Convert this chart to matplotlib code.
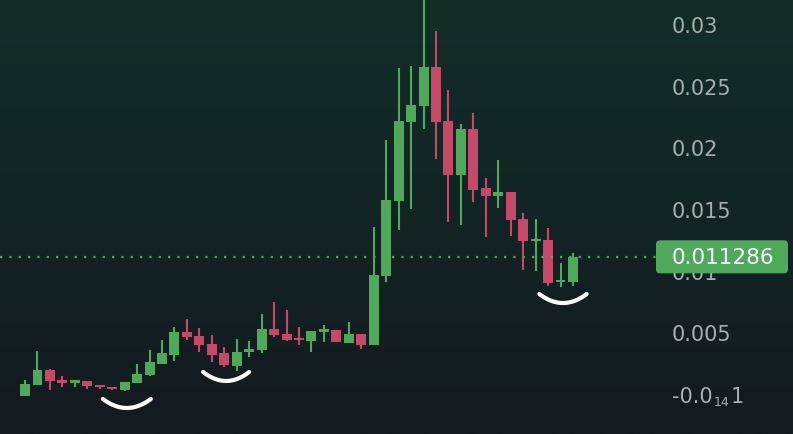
import numpy as np
import matplotlib.pyplot as plt
from matplotlib.patches import FancyBboxPatch
from matplotlib.transforms import blended_transform_factory, IdentityTransform

plt.rcParams['font.family'] = ['DejaVu Sans']

# ========== OHLC data ==========
opens = [0.0000, 0.00089, 0.00211, 0.00130, 0.00114, 0.00122, 0.00089, 0.00073, 0.00049, 0.00105,
         0.00170, 0.00260, 0.00333, 0.00519, 0.00487, 0.00422, 0.00349, 0.00243, 0.00357, 0.00373,
         0.00543, 0.00503, 0.00470, 0.00446, 0.00527, 0.00535, 0.00430, 0.00503, 0.00414, 0.00973,
         0.01581, 0.02222, 0.02352, 0.02668, 0.02230, 0.01792, 0.02165, 0.01687, 0.01622, 0.01654,
         0.01435, 0.01257, 0.01265, 0.00925, 0.00925]
highs = [0.00130, 0.00365, 0.00219, 0.00162, 0.00122, 0.00122, 0.00089, 0.00073, 0.00114, 0.00260,
         0.00373, 0.00454, 0.00560, 0.00624, 0.00551, 0.00495, 0.00397, 0.00462, 0.00446, 0.00665,
         0.00762, 0.00697, 0.00560, 0.00527, 0.00576, 0.00535, 0.00600, 0.00503, 0.01371, 0.02076,
         0.02660, 0.02676, 0.03260, 0.02960, 0.02482, 0.02206, 0.02295, 0.01768, 0.01914, 0.01654,
         0.01484, 0.01435, 0.01362, 0.01079, 0.01160]
lows = [0.0000, 0.00089, 0.00049, 0.00073, 0.00073, 0.00057, 0.00057, 0.00049, 0.00041, 0.00105,
        0.00162, 0.00260, 0.00284, 0.00454, 0.00357, 0.00276, 0.00235, 0.00203, 0.00316, 0.00349,
        0.00478, 0.00446, 0.00414, 0.00357, 0.00438, 0.00438, 0.00430, 0.00381, 0.00414, 0.00925,
        0.01346, 0.01517, 0.02165, 0.01922, 0.01411, 0.01387, 0.01573, 0.01289, 0.01525, 0.01298,
        0.01022, 0.01014, 0.00892, 0.00884, 0.00892]
closes = [0.00097, 0.00211, 0.00122, 0.00105, 0.00122, 0.00081, 0.00073, 0.00057, 0.00114, 0.00178,
          0.00276, 0.00349, 0.00519, 0.00478, 0.00414, 0.00333, 0.00251, 0.00357, 0.00381, 0.00543,
          0.00495, 0.00454, 0.00454, 0.00527, 0.00535, 0.00438, 0.00503, 0.00414, 0.00981, 0.01590,
          0.02230, 0.02360, 0.02668, 0.02222, 0.01792, 0.02165, 0.01671, 0.01622, 0.01654, 0.01427,
          0.01257, 0.01273, 0.00916, 0.00941, 0.011286]

tick_values = [0.03, 0.025, 0.02, 0.015, 0.01, 0.005, 0.0]
tick_labels = ['0.03', '0.025', '0.02', '0.015', '0.01', '0.005', None]
last_label = '0.011286'

# hand-drawn "smile" marks: (left x, right x, end price, bottom price)
smiles = [(6.25, 10.1, -0.00024, -0.00097),
          (14.3, 18.0, 0.00195, 0.00122),
          (41.3, 45.1, 0.00827, 0.00754)]

GREEN = '#4fa95b'
RED = '#c8486b'
TICK = '#a8afaf'

# ========== Figure ==========
fig = plt.figure(figsize=(7.93, 4.35), dpi=100)
ax = fig.add_axes([0, 0, 1, 1])
ax.set_xlim(-2.01, 61.67)
ax.set_ylim(-0.00308, 0.03219)
ax.axis('off')

# background gradient (greenish top -> bluish grey bottom)
top = np.array([0x12, 0x2e, 0x29]) / 255
bot = np.array([0x14, 0x1a, 0x20]) / 255
t = np.linspace(0, 1, 256)[:, None]
grad = (top * (1 - t) + bot * t)[:, None, :]
ax.imshow(grad, extent=[0, 1, 0, 1], transform=ax.transAxes, aspect='auto', zorder=0)

# ========== Candles ==========
min_body = 0.00018
for i, (o, h, l, c) in enumerate(zip(opens, highs, lows, closes)):
    col = GREEN if c >= o else RED
    ax.plot([i, i], [l, h], color=col, linewidth=1.5, solid_capstyle='butt', zorder=2)
    lo, hi = min(o, c), max(o, c)
    if hi - lo < min_body:
        mid = (hi + lo) / 2
        lo, hi = mid - min_body / 2, mid + min_body / 2
    ax.bar(i, hi - lo, bottom=lo, width=0.8, color=col, linewidth=0, zorder=3)

# last price dotted line
last = closes[-1]
ax.plot([-2.01, 50.7], [last, last], color=GREEN, linewidth=1.6,
        linestyle=(0, (1, 3.2)), zorder=4)

# smiles (white hand-drawn arcs)
for x0, x1, yend, ybot in smiles:
    xs = np.linspace(x0, x1, 40)
    u = (xs - (x0 + x1) / 2) / ((x1 - x0) / 2)
    ax.plot(xs, ybot + (yend - ybot) * u ** 2, color='white', linewidth=3,
            solid_capstyle='round', zorder=5)

# y tick labels on the right
trans = blended_transform_factory(ax.transAxes, ax.transData)
for v, lab in zip(tick_values, tick_labels):
    if lab is None:
        continue
    ax.text(672 / 793, v, lab, transform=trans, color=TICK, fontsize=15,
            va='center', ha='left', zorder=6)

# the odd "-0.0(14)1" zero label, built from pieces with a small subscript
fig.canvas.draw()
r = fig.canvas.get_renderer()
t1 = ax.text(672 / 793, 0.0, '-0.0', transform=trans, color=TICK, fontsize=15,
             va='center', ha='left', zorder=6)
bb = t1.get_window_extent(r)
y0 = ax.transData.transform((0, 0.0))[1]
t2 = ax.text(bb.x1 + 1, y0 - 12, '14', transform=IdentityTransform(), color=TICK,
             fontsize=9, va='bottom', ha='left', zorder=6)
bb2 = t2.get_window_extent(r)
ax.text(bb2.x1 + 1, y0, '1', transform=IdentityTransform(), color=TICK, fontsize=15,
        va='center', ha='left', zorder=6)

# last price tag
yd = ax.transData.transform((0, last))[1]
box = FancyBboxPatch((656, yd - 16.5), 132, 33, boxstyle='round,pad=0,rounding_size=4',
                     transform=IdentityTransform(), fc=GREEN, ec='none', zorder=7)
ax.add_patch(box)
ax.text(672 / 793, last, last_label, transform=trans, color='white', fontsize=15.5,
        va='center', ha='left', zorder=8)

fig.savefig('out.png', dpi=100)
